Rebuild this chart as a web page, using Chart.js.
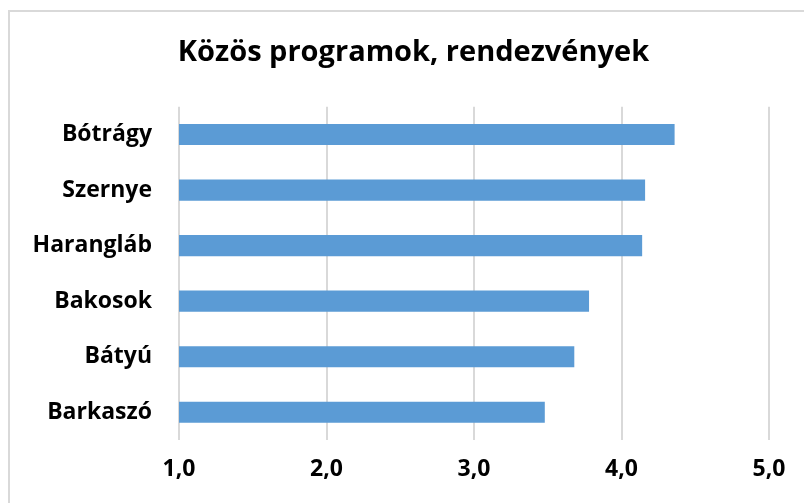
<!DOCTYPE html>
<html lang="hu">
  <head>
    <meta charset="UTF-8" />
    <title>Közös programok, rendezvények</title>
    <script src="https://cdn.jsdelivr.net/npm/chart.js@4.4.0/dist/chart.umd.min.js"></script>
    <style>
      body {
        margin: 0;
        padding: 0;
        background: #fff;
        width: 804px;
        height: 503px;
        overflow: hidden;
        position: relative;
      }
      .frame {
        position: absolute;
        left: 8px;
        top: 10px;
        width: 810px;
        height: 510px;
        border: 2px solid #d9d9d9;
        box-sizing: border-box;
      }
      .wrap {
        position: absolute;
        left: 0;
        top: 0;
        width: 804px;
        height: 503px;
      }
    </style>
  </head>
  <body>
    <div class="frame"></div>
    <div class="wrap">
      <canvas id="chart"></canvas>
    </div>
    <script>
      const categories = ['Bótrágy', 'Szernye', 'Harangláb', 'Bakosok', 'Bátyú', 'Barkaszó']
      const values = [4.36, 4.16, 4.14, 3.78, 3.68, 3.48]
      const xTicks = [1, 2, 3, 4, 5]

      const font = "'Open Sans', 'Noto Sans', sans-serif"

      // the title in the original sits a bit right of the canvas centre
      const shiftTitle = {
        id: 'shiftTitle',
        afterLayout(chart) {
          const t = chart.titleBlock
          if (t) {
            t.left += 29
            t.right += 29
          }
        },
      }

      new Chart(document.getElementById('chart').getContext('2d'), {
        type: 'bar',
        data: {
          labels: categories,
          datasets: [
            {
              data: values,
              backgroundColor: '#5b9bd5',
              borderWidth: 0,
              barPercentage: 0.38,
              categoryPercentage: 1,
            },
          ],
        },
        options: {
          indexAxis: 'y',
          responsive: true,
          maintainAspectRatio: false,
          animation: false,
          layout: { padding: { left: 0, right: 35, top: 0, bottom: 0 } },
          plugins: {
            legend: { display: false },
            tooltip: { enabled: false },
            title: {
              display: true,
              text: 'Közös programok, rendezvények',
              color: '#000',
              font: { family: font, size: 29, weight: 'bold' },
              padding: { top: 35, bottom: 37 },
            },
          },
          scales: {
            x: {
              min: xTicks[0],
              max: xTicks[xTicks.length - 1],
              afterBuildTicks: (scale) => {
                scale.ticks = xTicks.map((v) => ({ value: v }))
              },
              afterFit: (scale) => {
                scale.height = 63
              },
              border: { display: false },
              grid: { color: '#d9d9d9', lineWidth: 2, drawTicks: false },
              ticks: {
                color: '#000',
                padding: 16,
                font: { family: font, size: 23, weight: 'bold' },
                callback: (v) => Number(v).toFixed(1).replace('.', ','),
              },
            },
            y: {
              afterFit: (scale) => {
                scale.width = 179
              },
              border: { display: false },
              grid: { display: false, drawTicks: false },
              ticks: {
                color: '#000',
                padding: 27,
                font: { family: font, size: 23, weight: 'bold' },
              },
            },
          },
        },
        plugins: [shiftTitle],
      })
    </script>
  </body>
</html>
